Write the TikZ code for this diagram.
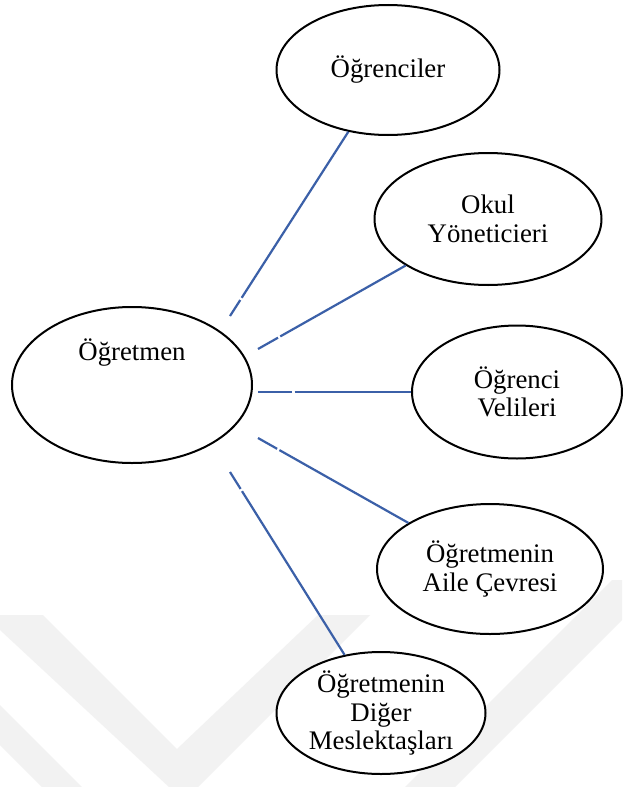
\documentclass[tikz,border=0pt]{standalone}
\usepackage{fontspec}
\setmainfont{Liberation Serif}
\usetikzlibrary{shapes.geometric}

\definecolor{linkblue}{RGB}{59,96,168}
\definecolor{markgray}{RGB}{242,242,242}

\tikzset{
  bubble/.style={ellipse, draw=black, line width=1pt, fill=white, inner sep=0pt,
                 align=center, font=\fontsize{13.4}{14.3}\selectfont},
  link/.style={draw=linkblue, line width=1.1pt},
  plain/.style={inner sep=0pt, font=\fontsize{13.4}{14.3}\selectfont}
}

\begin{document}
\begin{tikzpicture}[x=0.5pt, y=-0.5pt]
  \useasboundingbox (0,0) rectangle (622,787);
  \fill[white] (0,0) rectangle (622,787);

  % faint chevron marks along the lower edge
  \fill[markgray] (0,615) -- (43,615) -- (177,749) -- (318,615) -- (370,615)
                  -- (198,787) -- (169,787) -- (0,630) -- cycle;
  \fill[markgray] (0,705) -- (82,787) -- (42,787) -- (0,745) -- cycle;
  \fill[markgray] (405,787) -- (612,580) -- (622,580) -- (622,620) -- (455,787) -- cycle;

  % central party and the groups around it
  \node[bubble, minimum width=120pt, minimum height=78pt] (teacher) at (132,385) {};
  \node[plain] (teacherlabel) at (132,353) {Öğretmen};

  \node[bubble, minimum width=111.5pt, minimum height=65pt] (students) at (388,70) {Öğrenciler};
  \node[bubble, minimum width=113.5pt, minimum height=66pt] (admins) at (488,219) {Okul\\Yöneticieri};
  \node[bubble, minimum width=105pt, minimum height=66.5pt] (parents) at (517,392) {Öğrenci\\Velileri};
  \node[bubble, minimum width=113pt, minimum height=65pt] (family) at (490,569) {Öğretmenin\\Aile Çevresi};
  \node[bubble, minimum width=104.5pt, minimum height=61pt] (peers) at (381,713) {Öğretmenin\\Diğer\\Meslektaşları};

  % loose ends of the links, just off the central ellipse
  \coordinate (s1) at (230,316);
  \coordinate (s2) at (258,349);
  \coordinate (s3) at (258,392);
  \coordinate (s4) at (258,438);
  \coordinate (s5) at (230,472);

  % links, each with a small break near its loose end
  \draw[link, dash pattern=on 9.5pt off 1.3pt on 600pt] (s1) -- (students);
  \draw[link, dash pattern=on 11.5pt off 1.3pt on 600pt] (s2) -- (admins);
  \draw[link, dash pattern=on 17pt off 1.3pt on 600pt] (s3) -- (parents);
  \draw[link, dash pattern=on 11pt off 1.3pt on 600pt] (s4) -- (family);
  \draw[link, dash pattern=on 10pt off 1.3pt on 600pt] (s5) -- (peers);
\end{tikzpicture}
\end{document}
